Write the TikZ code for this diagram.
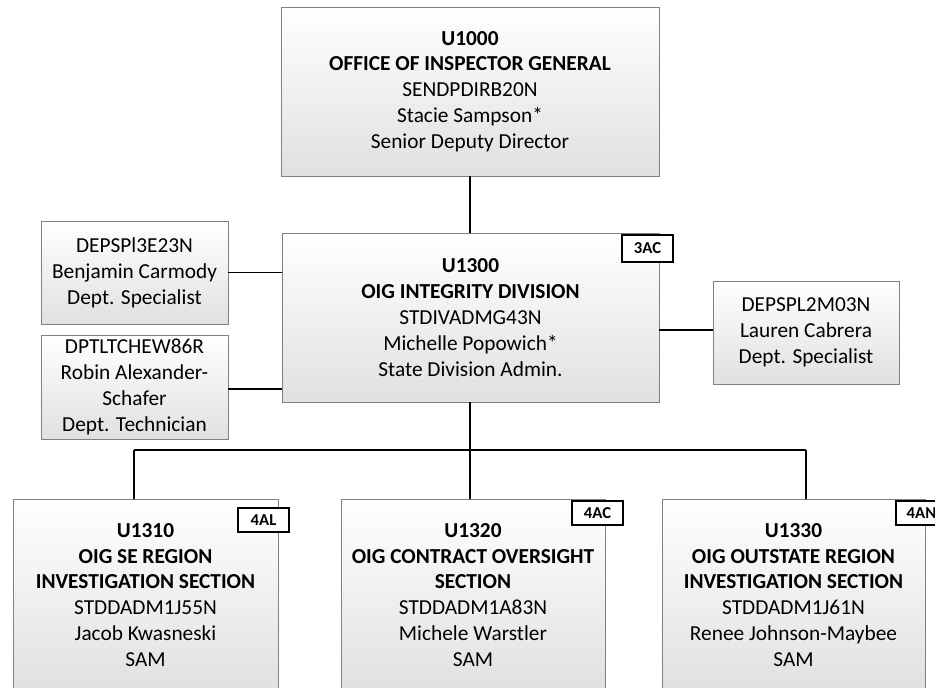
\documentclass[tikz,border=0pt]{standalone}
\usepackage{fontspec}
\setmainfont{Carlito}
\begin{document}
\begin{tikzpicture}[x=0.75pt,y=-0.75pt,
  orgbox/.style={draw=black!50, line width=0.7pt, top color=white, bottom color=black!12,
    inner sep=0pt, align=center, font=\fontsize{16}{19.4}\selectfont},
  tagbox/.style={draw=black, fill=white, line width=1.3pt, inner sep=0pt,
    minimum width=38.25pt, font=\fontsize{12.5}{14}\selectfont\bfseries},
  link/.style={draw=black, line width=1.4pt}]
\useasboundingbox (0,0) rectangle (935,688);
\clip (0,0) rectangle (935,688);
\fill[white] (0,0) rectangle (935,688);

% boxes
\node[orgbox, minimum width=283.5pt, minimum height=126.75pt] (top) at (470,91.5)
  {\textbf{U1000}\\ \textbf{OFFICE OF INSPECTOR GENERAL}\\ SENDPDIRB20N\\ Stacie Sampson*\\ Senior Deputy Director};
\node[orgbox, minimum width=282.75pt, minimum height=126.75pt] (main) at (470.5,317.5)
  {\textbf{U1300}\\ \textbf{OIG INTEGRITY DIVISION}\\ STDIVADMG43N\\ Michelle Popowich*\\ State Division Admin.};
\node[orgbox, minimum width=140.25pt, minimum height=77.25pt] (spA) at (134.5,272.5)
  {DEPSPl3E23N\\ Benjamin Carmody\\ Dept. Specialist};
\node[orgbox, minimum width=140.25pt, minimum height=78pt] (spB) at (134.5,387)
  {DPTLTCHEW86R\\ Robin Alexander-\\ Schafer\\ Dept. Technician};
\node[orgbox, minimum width=139.5pt, minimum height=77.25pt] (spC) at (806,332.5)
  {DEPSPL2M03N\\ Lauren Cabrera\\ Dept. Specialist};
\node[orgbox, minimum width=198.75pt, minimum height=144pt] (secD) at (145.5,595)
  {\textbf{U1310}\\ \textbf{OIG SE REGION}\\ \textbf{INVESTIGATION SECTION}\\ STDDADM1J55N\\ Jacob Kwasneski\\ SAM};
\node[orgbox, minimum width=198pt, minimum height=144pt] (secE) at (473,595)
  {\textbf{U1320}\\ \textbf{OIG CONTRACT OVERSIGHT}\\ \textbf{SECTION}\\ STDDADM1A83N\\ Michele Warstler\\ SAM};
\node[orgbox, minimum width=197.25pt, minimum height=144pt] (secF) at (793.5,595)
  {\textbf{U1330}\\ \textbf{OIG OUTSTATE REGION}\\ \textbf{INVESTIGATION SECTION}\\ STDDADM1J61N\\ Renee Johnson-Maybee\\ SAM};

% connectors
\coordinate (busL) at (134,450);
\coordinate (busM) at (470,450);
\coordinate (busR) at (806,450);
\coordinate (bE) at (228,389);
\coordinate (cW) at (713,330);
\draw[link] (top.south) -- (top.south |- main.north);
\draw[link] (spA.east) -- (spA.east -| main.west);
\draw[link] (bE) -- (bE -| main.west);
\draw[link] (cW) -- (cW -| main.east);
\draw[link] (busM |- main.south) -- (busM);
\draw[link] (busL) -- (busR);
\draw[link] (busL) -- (busL |- secD.north);
\draw[link] (busM) -- (busM |- secE.north);
\draw[link] (busR) -- (busR |- secF.north);

% tags
\node[tagbox, minimum height=20.25pt] (t3AC) at (647.5,248.5) {3AC};
\node[tagbox, minimum height=18pt] (t4AL) at (263.5,520) {4AL};
\node[tagbox, minimum height=18pt] (t4AC) at (597.5,513) {4AC};
\node[tagbox, minimum height=18pt] (t4AN) at (921.5,513) {4AN};
\end{tikzpicture}
\end{document}
